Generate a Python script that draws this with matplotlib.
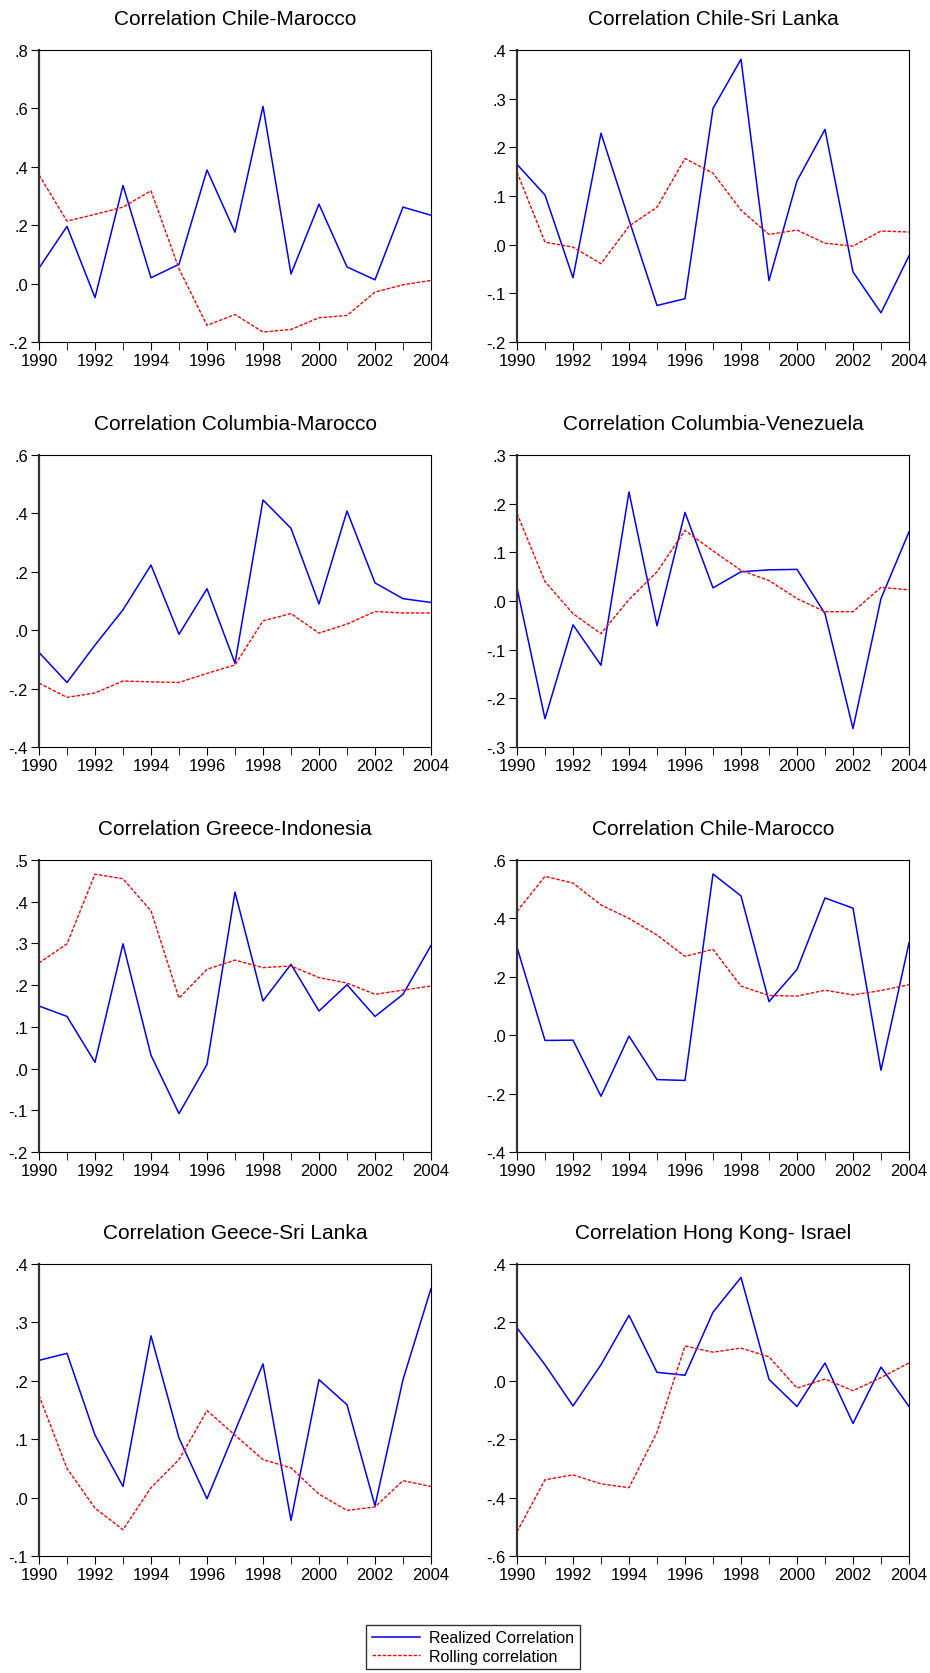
import numpy as np
import matplotlib
matplotlib.use("Agg")
import matplotlib.pyplot as plt
from matplotlib.ticker import FuncFormatter, MultipleLocator

plt.rcParams["font.family"] = ["Liberation Sans", "DejaVu Sans"]

years = np.arange(1990, 2005)

titles = [
    "Correlation Chile-Marocco",
    "Correlation Chile-Sri Lanka",
    "Correlation Columbia-Marocco",
    "Correlation Columbia-Venezuela",
    "Correlation Greece-Indonesia",
    "Correlation Chile-Marocco",
    "Correlation Geece-Sri Lanka",
    "Correlation Hong Kong- Israel",
]

realized = [
    [0.053, 0.196, -0.048, 0.336, 0.020, 0.066, 0.389, 0.176, 0.607, 0.033,
     0.272, 0.057, 0.013, 0.262, 0.234],
    [0.165, 0.102, -0.068, 0.229, 0.051, -0.125, -0.111, 0.280, 0.381, -0.074,
     0.131, 0.237, -0.056, -0.140, -0.023],
    [-0.076, -0.179, -0.051, 0.070, 0.223, -0.014, 0.142, -0.113, 0.446, 0.349,
     0.090, 0.408, 0.162, 0.108, 0.095],
    [0.027, -0.242, -0.049, -0.132, 0.224, -0.051, 0.182, 0.027, 0.060, 0.064,
     0.065, -0.026, -0.262, 0.005, 0.142],
    [0.150, 0.125, 0.015, 0.299, 0.032, -0.108, 0.010, 0.423, 0.162, 0.250,
     0.138, 0.201, 0.125, 0.178, 0.295],
    [0.301, -0.018, -0.017, -0.209, -0.003, -0.152, -0.155, 0.552, 0.477, 0.115,
     0.225, 0.470, 0.435, -0.120, 0.316],
    [0.235, 0.247, 0.107, 0.019, 0.277, 0.102, -0.002, 0.114, 0.229, -0.039,
     0.202, 0.159, -0.014, 0.202, 0.358],
    [0.181, 0.055, -0.086, 0.055, 0.224, 0.029, 0.019, 0.235, 0.354, 0.005,
     -0.088, 0.061, -0.146, 0.047, -0.088],
]

rolling = [
    [0.372, 0.214, 0.237, 0.262, 0.318, 0.051, -0.143, -0.106, -0.166, -0.157,
     -0.117, -0.109, -0.029, -0.004, 0.011],
    [0.149, 0.005, -0.005, -0.039, 0.038, 0.077, 0.177, 0.147, 0.071, 0.021,
     0.030, 0.003, -0.003, 0.028, 0.026],
    [-0.181, -0.230, -0.215, -0.174, -0.177, -0.179, -0.148, -0.119, 0.032, 0.057,
     -0.010, 0.021, 0.064, 0.059, 0.059],
    [0.180, 0.040, -0.026, -0.067, 0.003, 0.060, 0.145, 0.103, 0.063, 0.042,
     0.005, -0.022, -0.022, 0.028, 0.023],
    [0.253, 0.299, 0.466, 0.455, 0.378, 0.169, 0.238, 0.260, 0.242, 0.246,
     0.218, 0.205, 0.178, 0.188, 0.198],
    [0.424, 0.544, 0.521, 0.446, 0.400, 0.343, 0.270, 0.294, 0.168, 0.136,
     0.134, 0.154, 0.138, 0.153, 0.173],
    [0.175, 0.050, -0.018, -0.055, 0.017, 0.065, 0.149, 0.107, 0.065, 0.051,
     0.006, -0.022, -0.016, 0.029, 0.019],
    [-0.517, -0.339, -0.322, -0.353, -0.366, -0.176, 0.119, 0.098, 0.112, 0.082,
     -0.025, 0.006, -0.034, 0.011, 0.061],
]

ylims = [(-0.2, 0.8), (-0.2, 0.4), (-0.4, 0.6), (-0.3, 0.3),
         (-0.2, 0.5), (-0.4, 0.6), (-0.1, 0.4), (-0.6, 0.4)]
ysteps = [0.2, 0.1, 0.2, 0.1, 0.1, 0.2, 0.1, 0.2]


def short(v, pos):
    s = f"{v:.1f}"
    if s == "-0.0":
        s = "0.0"
    return s.replace("0.", ".", 1)


W, H = 930, 1674
fig = plt.figure(figsize=(W / 100, H / 100), dpi=100)
lefts = [39, 517]
tops = [51, 456, 861, 1265]
aw, ah = 392, 292

for i in range(8):
    r, c = divmod(i, 2)
    ax = fig.add_axes([lefts[c] / W, 1 - (tops[r] + ah) / H, aw / W, ah / H])
    l1, = ax.plot(years, realized[i], color="#0000ff", lw=1.1)
    l2, = ax.plot(years, rolling[i], color="#ff0000", lw=1.0, ls=(0, (2.5, 1.2)))
    ax.set_xlim(1990, 2004)
    ax.set_ylim(*ylims[i])
    ax.xaxis.set_major_locator(MultipleLocator(2))
    ax.xaxis.set_minor_locator(MultipleLocator(1))
    ax.yaxis.set_major_locator(MultipleLocator(ysteps[i]))
    ax.yaxis.set_major_formatter(FuncFormatter(short))
    ax.tick_params(axis="both", which="both", direction="out", labelsize=12,
                   pad=2)
    ax.tick_params(which="major", length=6)
    ax.tick_params(which="minor", length=6)
    ax.tick_params(axis="y", which="minor", left=False)
    ax.spines["left"].set_linewidth(1.6)
    ax.spines["left"].set_color("#333333")
    ax.set_title(titles[i], fontsize=15, pad=19)

fig.legend([l1, l2], ["Realized Correlation", "Rolling correlation"],
           loc="center", bbox_to_anchor=(473 / W, 1 - 1648 / H),
           fontsize=11.5, frameon=True, fancybox=False, edgecolor="black",
           handlelength=3.0, handletextpad=0.6, borderpad=0.35,
           labelspacing=0.2)

fig.savefig("out.png", dpi=100)
